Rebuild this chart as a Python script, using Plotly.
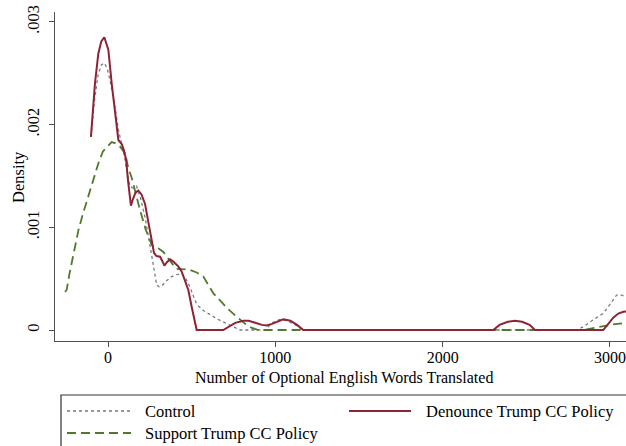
import plotly.graph_objects as go

# Kernel density estimates of optional English words translated, by treatment arm
control_x = [-102, -82, -60, -40, -22, -5, 12, 27, 42, 62, 80, 95, 112, 131, 150, 171, 195,
             221, 245, 271, 291, 306, 321, 350, 381, 410, 440, 465, 490, 510, 530, 570, 610,
             650, 700, 750, 790, 940, 980, 1028, 1070, 1120, 1165, 2800, 2840, 2900, 2960,
             3000, 3040, 3070, 3090, 3110]
control_y = [0.00188, 0.00222, 0.00248, 0.00258, 0.00260, 0.00255, 0.00243, 0.00230, 0.00217,
             0.00195, 0.00182, 0.00172, 0.00156, 0.00140, 0.00138, 0.00140, 0.00128, 0.00110,
             0.00088, 0.00065, 0.000438, 0.00042, 0.000428, 0.00048, 0.00052, 0.00054, 0.00055,
             0.00050, 0.00042, 0.00033, 0.00025, 0.00019, 0.00015, 0.00011, 0.00007, 0.00003,
             0.0, 0.0, 0.00007, 0.000104, 0.00009, 0.00005, 0.0, 0.0, 0.00003, 0.00010,
             0.000162, 0.00025, 0.00034, 0.00034, 0.000325, 0.00031]

denounce_x = [-102, -78, -58, -40, -22, 2, 22, 42, 62, 72, 82, 95, 108, 120, 137, 150, 165, 181,
              200, 221, 240, 261, 275, 290, 311, 325, 337, 352, 371, 395, 421, 440, 460, 480,
              500, 515, 530, 689, 720, 760, 809, 840, 880, 920, 948, 980, 1048, 1090, 1130,
              1167, 2303, 2340, 2390, 2432, 2475, 2520, 2552, 2960, 2990, 3020, 3050, 3080, 3110]
denounce_y = [0.00188, 0.00240, 0.00269, 0.00281, 0.00285, 0.00273, 0.00240, 0.00214, 0.00185,
              0.00183, 0.00181, 0.00175, 0.00166, 0.00145, 0.00121, 0.00128, 0.00134, 0.001357,
              0.00132, 0.00123, 0.00105, 0.00087, 0.00075, 0.00072, 0.000714, 0.00067, 0.000626,
              0.00066, 0.000688, 0.00066, 0.000617, 0.00057, 0.000487, 0.00039, 0.000227,
              0.00010, 0.0, 0.0, 0.00003, 0.00007, 0.00009, 0.00009, 0.00007, 0.00005, 0.000045,
              0.00006, 0.000104, 0.00009, 0.00005, 0.0, 0.0, 0.00005, 0.00008, 0.00009, 0.00008,
              0.00005, 0.0, 0.0, 0.00006, 0.00012, 0.00016, 0.000178, 0.00018]

support_x = [-257, -247, -230, -205, -177, -150, -118, -90, -58, -30, 2, 22, 42, 70, 102, 121,
             142, 165, 191, 225, 261, 280, 301, 331, 351, 371, 391, 410, 440, 480, 530, 570,
             630, 669, 720, 769, 820, 860, 900, 2840, 2900, 2960, 3020, 3080, 3110]
support_y = [0.00037, 0.00039, 0.00055, 0.00075, 0.00097, 0.00113, 0.00130, 0.00143, 0.00162,
             0.00174, 0.00180, 0.00183, 0.00182, 0.00179, 0.00172, 0.00158, 0.00148, 0.00133,
             0.00117, 0.00098, 0.00083, 0.00080, 0.000795, 0.00076, 0.000714, 0.000665, 0.00063,
             0.000595, 0.00059, 0.00059, 0.00056, 0.00052, 0.000357, 0.00029, 0.00020, 0.00013,
             0.00006, 0.00002, 0.0, 0.0, 0.00002, 0.00004, 0.000055, 0.000065, 0.000068]

x_ticks = [0, 1000, 2000, 3000]
x_tick_labels = ["0", "1000", "2000", "3000"]
y_ticks = [0, 0.001, 0.002, 0.003]
y_tick_labels = ["0", ".001", ".002", ".003"]

FONT = "Liberation Serif"
GRAY = "#7a7a7a"
RED = "#8e2333"
GREEN = "#4f7a2c"
AXIS = "#505050"

fig = go.Figure()
fig.add_trace(go.Scatter(x=control_x, y=control_y, mode="lines", name="Control",
                         line=dict(color=GRAY, width=1.3, dash="dot")))
fig.add_trace(go.Scatter(x=support_x, y=support_y, mode="lines", name="Support Trump CC Policy",
                         line=dict(color=GREEN, width=1.8, dash="9px,5px")))
fig.add_trace(go.Scatter(x=denounce_x, y=denounce_y, mode="lines", name="Denounce Trump CC Policy",
                         line=dict(color=RED, width=2)))

W, H = 626, 446
ml, mr, mt, mb = 55, 0, 12, 105
pw, ph = W - ml - mr, H - mt - mb


def px_x(p):
    return (p - ml) / pw


def px_y(p):
    return (H - mb - p) / ph


# Legend box and keys, laid out below the plot
shapes = [
    dict(type="rect", xref="paper", yref="paper", x0=px_x(61), x1=px_x(640),
         y0=px_y(470), y1=px_y(395), line=dict(color="#333333", width=1.2)),
    dict(type="line", xref="paper", yref="paper", x0=px_x(67), x1=px_x(131),
         y0=px_y(411), y1=px_y(411), line=dict(color=GRAY, width=1.3, dash="dot")),
    dict(type="line", xref="paper", yref="paper", x0=px_x(67), x1=px_x(131),
         y0=px_y(433), y1=px_y(433), line=dict(color=GREEN, width=1.8, dash="9px,5px")),
    dict(type="line", xref="paper", yref="paper", x0=px_x(349), x1=px_x(411),
         y0=px_y(411), y1=px_y(411), line=dict(color=RED, width=2)),
]
texts = [
    dict(text="Control", x=px_x(143), y=px_y(411), xanchor="left"),
    dict(text="Support Trump CC Policy", x=px_x(143), y=px_y(433), xanchor="left"),
    dict(text="Denounce Trump CC Policy", x=px_x(424), y=px_y(411), xanchor="left"),
    # axis titles
    dict(text="Number of Optional English Words Translated", x=px_x(344), y=px_y(378),
         xanchor="center", size=16),
    dict(text="Density", x=px_x(18), y=px_y(177), xanchor="center", textangle=-90),
]
annotations = []
for t in texts:
    size = t.pop("size", 16.5)
    annotations.append(dict(t, xref="paper", yref="paper", yanchor="middle", showarrow=False,
                            font=dict(family=FONT, size=size, color="black")))

fig.update_layout(
    width=W, height=H,
    margin=dict(l=ml, r=mr, t=mt, b=mb, autoexpand=False),
    paper_bgcolor="white", plot_bgcolor="white",
    showlegend=False,
    font=dict(family=FONT, size=16.5, color="black"),
    shapes=shapes, annotations=annotations,
    xaxis=dict(range=[-316.8, 3096], tickvals=x_ticks, ticktext=x_tick_labels,
               showgrid=False, zeroline=False, showline=True, linecolor=AXIS, linewidth=1.4,
               ticks="outside", ticklen=5, tickcolor=AXIS, tickwidth=1.2,
               tickfont=dict(size=16),
               ticklabelstandoff=-3, ticklabeloverflow="allow"),
    yaxis=dict(range=[-0.000107, 0.003096], tickvals=y_ticks, ticktext=y_tick_labels,
               showgrid=False, zeroline=False, showline=True, linecolor=AXIS, linewidth=1.4,
               ticks="outside", ticklen=5, tickcolor=AXIS, tickwidth=1.2, tickangle=-90,
               ticklabelstandoff=3, ticklabeloverflow="allow"),
)

fig.write_html("out.html")
